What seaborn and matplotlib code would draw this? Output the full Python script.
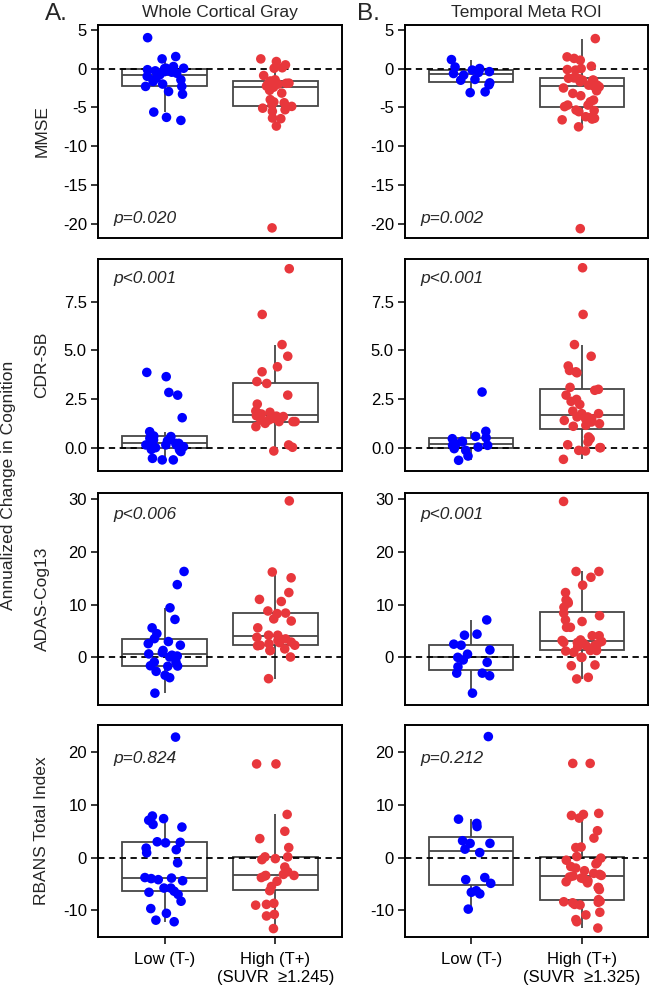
import numpy as np
import pandas as pd
import matplotlib
matplotlib.use("Agg")
import matplotlib.pyplot as plt
import seaborn as sns

# ---------------- data ----------------
groups = ["Low (T-)", "High (T+)"]
regions = ["Whole Cortical Gray", "Temporal Meta ROI"]
panel_letters = ["A.", "B."]
suvr_cut = ["\u22651.245", "\u22651.325"]
measures = ["MMSE", "CDR-SB", "ADAS-Cog13", "RBANS Total Index"]
p_values = [["p=0.020", "p=0.002"],
            ["p<0.001", "p<0.001"],
            ["p<0.006", "p<0.001"],
            ["p=0.824", "p=0.212"]]

mmse_wcg_low = [3.97, 1.54, 1.24, 0.26, 0.04, 0.04, 0.0, -0.15, -0.3, -0.4, -0.47, -0.6, -0.8,
                -1.0, -1.24, -1.45, -1.67, -2.0, -2.3, -2.3, -2.95, -3.3, -5.6, -6.28, -6.67]
mmse_wcg_high = [1.24, 0.9, 0.47, 0.1, 0.04, -0.9, -1.45, -1.6, -1.67, -1.75, -1.88, -1.9, -2.0,
                 -2.0, -2.25, -2.4, -2.8, -3.16, -4.0, -4.3, -4.4, -4.65, -4.87, -5.1, -5.3, -5.5,
                 -6.37, -6.45, -7.4, -20.5]
mmse_tmr_low = [1.15, 0.2, 0.0, -0.2, -0.2, -0.4, -0.5, -0.64, -0.85, -1.4, -1.5, -1.84, -2.1,
                -3.0, -3.1]
mmse_tmr_high = [3.85, 1.5, 1.3, 1.07, 0.3, 0.0, -0.13, -0.2, -1.15, -1.2, -1.25, -1.3, -1.35,
                 -1.5, -1.5, -1.5, -1.7, -1.9, -2.14, -2.14, -2.26, -2.35, -2.5, -2.86, -3.2,
                 -3.5, -4.06, -4.27, -4.7, -4.7, -4.9, -5.34, -5.4, -5.55, -6.2, -6.3, -6.4,
                 -6.5, -6.6, -7.5, -20.6]

cdr_wcg_low = [3.87, 3.65, 2.84, 2.7, 1.54, 0.82, 0.6, 0.57, 0.48, 0.4, 0.36, 0.3, 0.22, 0.22,
               0.14, 0.14, 0.14, 0.05, 0.0, -0.09, -0.12, -0.2, -0.55, -0.63, -0.63]
cdr_wcg_high = [9.2, 6.85, 5.3, 4.7, 4.16, 3.9, 3.4, 3.3, 2.7, 2.24, 1.88, 1.82, 1.76, 1.73,
                1.64, 1.62, 1.6, 1.5, 1.42, 1.42, 1.34, 1.34, 1.34, 1.25, 1.08, 0.14, 0.02, -0.17]
cdr_tmr_low = [2.86, 0.84, 0.58, 0.51, 0.46, 0.33, 0.29, 0.2, 0.12, 0.12, 0.03, -0.05, -0.14,
               -0.43, -0.65]
cdr_tmr_high = [9.25, 6.85, 5.3, 4.7, 4.2, 3.97, 3.9, 3.85, 3.1, 3.0, 2.95, 2.7, 2.48, 2.38,
                2.22, 1.88, 1.75, 1.75, 1.58, 1.58, 1.49, 1.49, 1.4, 1.32, 1.23, 1.15, 1.1,
                0.55, 0.46, 0.29, 0.15, 0.0, 0.0, -0.14, -0.17, -0.6]

adas_wcg_low = [16.3, 13.8, 9.4, 7.2, 5.6, 4.5, 3.55, 3.0, 2.6, 2.3, 1.3, 0.9, 0.65, 0.4, 0.25,
                0.06, -0.9, -0.9, -1.6, -1.65, -1.7, -2.66, -3.4, -3.86, -6.8]
adas_wcg_high = [29.7, 16.2, 15.1, 12.3, 11.0, 10.6, 8.8, 8.4, 8.3, 7.3, 6.9, 5.6, 4.2, 4.2,
                 3.8, 3.5, 3.2, 2.9, 2.8, 2.6, 2.3, 2.3, 2.2, 1.6, 1.3, 1.3, 0.06, -4.05]
adas_tmr_low = [7.1, 4.4, 4.2, 2.5, 2.3, 1.4, 0.6, 0.0, -0.5, -0.95, -1.8, -3.0, -3.0, -3.5, -6.8]
adas_tmr_high = [29.6, 16.3, 16.3, 15.2, 13.7, 12.3, 10.9, 10.6, 10.3, 9.5, 8.4, 7.9, 7.1, 6.8,
                 5.7, 5.7, 4.1, 4.1, 3.3, 3.2, 3.0, 2.85, 2.8, 2.7, 2.5, 2.2, 2.2, 2.0, 1.9, 1.4,
                 1.3, 1.3, 1.2, 0.95, 0.0, 0.0, -1.45, -1.6, -3.8, -4.1]

rbans_wcg_low = [22.9, 7.9, 7.4, 7.1, 6.3, 5.8, 3.0, 2.9, 2.8, 1.8, 1.5, 0.9, -1.0, -3.8, -3.9,
                 -4.0, -4.2, -4.4, -5.8, -5.8, -6.4, -6.6, -7.0, -8.3, -9.7, -10.6, -11.9, -12.2]
rbans_wcg_high = [17.8, 17.8, 8.2, 5.0, 3.6, 1.9, 0.13, 0.13, -0.2, -0.4, -1.8, -2.7, -3.2,
                  -3.4, -3.4, -3.5, -3.8, -4.5, -5.5, -6.3, -8.7, -8.9, -9.05, -10.8, -11.1, -13.5]
rbans_tmr_low = [23.0, 7.3, 6.5, 5.9, 3.2, 2.7, 2.7, 1.6, 0.95, -3.8, -4.2, -4.9, -6.3, -6.6,
                 -6.9, -9.8]
rbans_tmr_high = [17.9, 17.9, 8.4, 8.2, 8.0, 7.5, 5.1, 3.7, 2.0, 1.9, 0.2, -0.1, -0.5, -0.95,
                  -1.2, -1.7, -2.0, -2.5, -3.0, -3.2, -3.4, -3.5, -3.7, -3.9, -4.05, -4.4, -4.6,
                  -4.8, -5.7, -5.7, -6.1, -8.0, -8.3, -8.4, -8.5, -8.6, -8.9, -9.0, -10.4,
                  -10.9, -11.8, -12.2, -13.4]

panel_data = [
    [(mmse_wcg_low, mmse_wcg_high), (mmse_tmr_low, mmse_tmr_high)],
    [(cdr_wcg_low, cdr_wcg_high), (cdr_tmr_low, cdr_tmr_high)],
    [(adas_wcg_low, adas_wcg_high), (adas_tmr_low, adas_tmr_high)],
    [(rbans_wcg_low, rbans_wcg_high), (rbans_tmr_low, rbans_tmr_high)],
]

y_limits = [(-21.8, 5.6), (-1.2, 9.7), (-9.05, 31.2), (-15.1, 25.2)]
y_ticks = [[5, 0, -5, -10, -15, -20], [0.0, 2.5, 5.0, 7.5], [0, 10, 20, 30], [-10, 0, 10, 20]]
y_fmt = ["{:g}", "{:.1f}", "{:g}", "{:g}"]
p_ypos = [0.09, 0.908, 0.899, 0.84]

# ---------------- style ----------------
sns.set_style("ticks")
plt.rcParams["font.family"] = ["Liberation Sans", "DejaVu Sans"]
plt.rcParams["axes.unicode_minus"] = False

palette = {"Low (T-)": "#0000FF", "High (T+)": "#E8373C"}
box_line = "#454545"

np.random.seed(7)

W, H = 652, 992
fig = plt.figure(figsize=(W / 100, H / 100), dpi=100)

col_px = [(98, 342), (405, 648)]
row_px = [(25, 238), (259, 471), (493, 705), (725, 937)]

for r in range(4):
    for c in range(2):
        x0, x1 = col_px[c]
        y0, y1 = row_px[r]
        ax = fig.add_axes([x0 / W, 1 - y1 / H, (x1 - x0) / W, (y1 - y0) / H])
        low, high = panel_data[r][c]
        df = pd.DataFrame({
            "group": [groups[0]] * len(low) + [groups[1]] * len(high),
            "value": list(low) + list(high),
        })
        sns.boxplot(data=df, x="group", y="value", order=groups, color="white",
                    saturation=1, linecolor=box_line, linewidth=1.3, width=0.76,
                    showcaps=False, showfliers=False, whis=1.5, ax=ax)
        ax.axhline(0, color="black", lw=1.3, ls=(0, (3.5, 2.5)), zorder=2.5)
        sns.stripplot(data=df, x="group", y="value", order=groups, hue="group",
                      hue_order=groups, palette=palette, legend=False, jitter=0.18,
                      size=6.9, linewidth=0, zorder=4, ax=ax)
        ax.set_xlim(-0.6, 1.6)
        ax.set_ylim(*y_limits[r])
        ax.set_yticks(y_ticks[r])
        ax.set_yticklabels([y_fmt[r].format(t) for t in y_ticks[r]])
        ax.set_xlabel("")
        ax.set_ylabel("")
        for s in ax.spines.values():
            s.set_visible(True)
            s.set_color("black")
            s.set_linewidth(1.4)
        ax.tick_params(axis="y", length=5, width=1.1, pad=3, labelsize=12,
                       colors="black")
        if r == 3:
            ax.set_xticks([0, 1])
            ax.set_xticklabels([groups[0], groups[1] + "\n(SUVR  " + suvr_cut[c] + ")"])
            ax.tick_params(axis="x", length=5, width=1.1, pad=6, labelsize=12,
                           colors="black")
        else:
            ax.tick_params(axis="x", bottom=False, labelbottom=False)
        ax.text(0.062, p_ypos[r], p_values[r][c], transform=ax.transAxes,
                fontsize=12.5, fontstyle="italic", ha="left", va="center")
        if r == 0:
            ax.set_title(regions[c], fontsize=12.5, pad=5.5)
        if c == 0:
            fig.text(42 / W, 1 - ((y0 + y1) / 2) / H, measures[r], rotation=90,
                     ha="center", va="center", fontsize=12.5)

fig.text(45 / W, 1 - 20 / H, panel_letters[0], fontsize=17.5, ha="left", va="baseline")
fig.text(357 / W, 1 - 20 / H, panel_letters[1], fontsize=17.5, ha="left", va="baseline")
fig.text(8.5 / W, 1 - 485 / H, "Annualized Change in Cognition", rotation=90,
         ha="center", va="center", fontsize=12.5)

fig.savefig("out.png", dpi=100)
